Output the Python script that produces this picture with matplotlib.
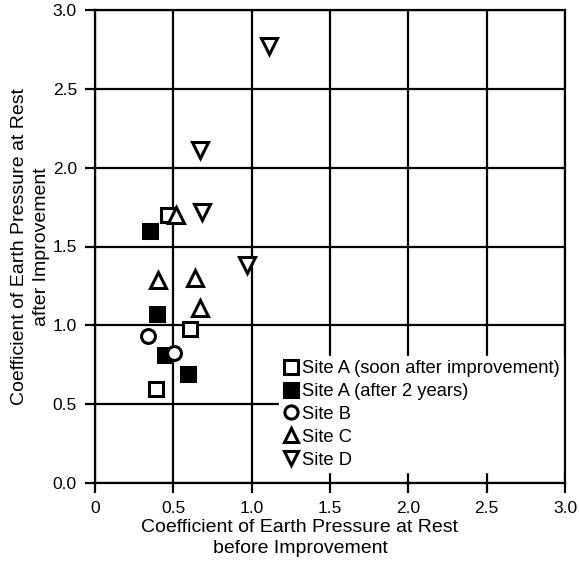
import matplotlib
matplotlib.use("Agg")
import matplotlib.pyplot as plt

plt.rcParams['font.family'] = ['Liberation Sans', 'DejaVu Sans']

# Site A, soon after improvement (open squares)
a_soon_x = [0.466, 0.606, 0.387]
a_soon_y = [1.70, 0.98, 0.594]
# Site A, after 2 years (filled squares)
a_2y_x = [0.349, 0.394, 0.447, 0.596]
a_2y_y = [1.60, 1.07, 0.81, 0.69]
# Site B
b_x = [0.338, 0.506]
b_y = [0.934, 0.822]
# Site C
c_x = [0.519, 0.402, 0.638, 0.672]
c_y = [1.70, 1.287, 1.298, 1.11]
# Site D
d_x = [0.683, 0.968, 0.668, 1.110]
d_y = [1.716, 1.382, 2.11, 2.77]

ticks = [0, 0.5, 1.0, 1.5, 2.0, 2.5, 3.0]
xticklabels = ['0', '0.5', '1.0', '1.5', '2.0', '2.5', '3.0']
yticklabels = ['0.0', '0.5', '1.0', '1.5', '2.0', '2.5', '3.0']

fig = plt.figure(figsize=(5.79, 5.80), dpi=100)
ax = fig.add_axes([0.164, 0.167, 0.812, 0.816])

lw = 2.2
ax.plot(a_soon_x, a_soon_y, 's', ms=10, mfc='white', mec='black', mew=lw,
        ls='none', label='Site A (soon after improvement)', zorder=3)
ax.plot(a_2y_x, a_2y_y, 's', ms=10.5, mfc='black', mec='black', mew=lw,
        ls='none', label='Site A (after 2 years)', zorder=3)
ax.plot(b_x, b_y, 'o', ms=10, mfc='white', mec='black', mew=lw,
        ls='none', label='Site B', zorder=3)
ax.plot(c_x, c_y, '^', ms=11, mfc='white', mec='black', mew=lw,
        ls='none', label='Site C', zorder=3)
ax.plot(d_x, d_y, 'v', ms=11, mfc='white', mec='black', mew=lw,
        ls='none', label='Site D', zorder=3)

ax.set_xlim(0, 3.0)
ax.set_ylim(0, 3.0)
ax.set_xticks(ticks)
ax.set_xticklabels(xticklabels)
ax.set_yticks(ticks)
ax.set_yticklabels(yticklabels)
ax.grid(True, color='black', lw=1.6)
ax.set_axisbelow(True)
for s in ax.spines.values():
    s.set_linewidth(1.6)
ax.tick_params(direction='out', length=7, width=1.6, labelsize=12.5, pad=6)

ax.set_xlabel('Coefficient of Earth Pressure at Rest\nbefore Improvement',
              fontsize=14, labelpad=3, linespacing=1.35)
ax.xaxis.set_label_coords(0.436, -0.075, transform=ax.transAxes)
ax.xaxis.label.set_va('top')
ax.set_ylabel('Coefficient of Earth Pressure at Rest\nafter Improvement',
              fontsize=14, labelpad=2, linespacing=1.35)

leg = ax.legend(loc='lower right', bbox_to_anchor=(0.997, 0.023),
                frameon=True, fontsize=13.2,
                handletextpad=0.15, handlelength=0.9, borderpad=0.2,
                labelspacing=0.32, borderaxespad=0.0, fancybox=False,
                markerscale=0.95)
leg.get_frame().set_edgecolor('white')
leg.get_frame().set_facecolor('white')
leg.get_frame().set_alpha(1)
leg.set_zorder(2)

fig.savefig('out.png', dpi=100)
